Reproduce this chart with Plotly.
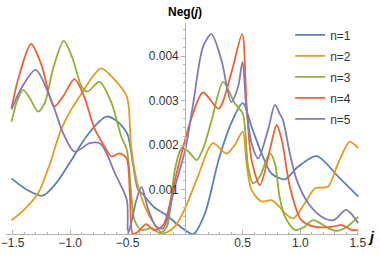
import plotly.graph_objects as go

# ---- data ----
j_n1 = [-1.51, -1.38, -1.24, -1.12, -0.99, -0.87, -0.75, -0.686, -0.6, -0.505, -0.455, -0.41, -0.37, -0.27,
        -0.16, -0.06, 0.07, 0.17, 0.29, 0.40, 0.5, 0.577, 0.664, 0.75, 0.867, 0.98, 1.143, 1.33, 1.505]
neg_n1 = [1.25e-3, 1.0e-3, 0.86e-3, 1.15e-3, 1.66e-3, 2.15e-3, 2.52e-3, 2.64e-3, 2.55e-3, 2.26e-3, 1.59e-3, 1.0e-3,
          0.9e-3, 0.6e-3, 0.42e-3, 0.2e-3, 0.0, 0.45e-3, 1.66e-3, 2.49e-3, 2.94e-3, 2.41e-3, 1.81e-3, 1.36e-3,
          1.23e-3, 1.51e-3, 1.75e-3, 1.29e-3, 0.84e-3]

j_n2 = [-1.51, -1.4, -1.28, -1.18, -1.08, -0.99, -0.90, -0.8, -0.73, -0.61, -0.507, -0.47, -0.41, -0.35, -0.29,
        -0.2, -0.15, -0.08, 0.0, 0.11, 0.24, 0.36, 0.43, 0.5, 0.533, 0.577, 0.664, 0.75, 0.82, 0.867, 0.94, 1.04,
        1.13, 1.24, 1.33, 1.43, 1.505]
neg_n2 = [0.31e-3, 0.55e-3, 0.91e-3, 1.55e-3, 2.34e-3, 2.8e-3, 3.16e-3, 3.55e-3, 3.72e-3, 3.46e-3, 3.09e-3, 1.96e-3,
          1.06e-3, 0.61e-3, 0.31e-3, 0.02e-3, 0.05e-3, 0.2e-3, 0.58e-3, 1.29e-3, 2.04e-3, 1.81e-3, 2.0e-3, 2.30e-3,
          1.59e-3, 0.99e-3, 0.73e-3, 0.76e-3, 0.61e-3, 0.47e-3, 0.35e-3, 0.69e-3, 1.03e-3, 1.06e-3, 1.59e-3,
          2.07e-3, 1.93e-3]

j_n3 = [-1.51, -1.46, -1.41, -1.35, -1.28, -1.22, -1.15, -1.056, -0.98, -0.90, -0.85, -0.745, -0.64, -0.556,
        -0.507, -0.47, -0.44, -0.38, -0.29, -0.22, -0.16, -0.09, -0.03, 0.03, 0.10, 0.16, 0.23, 0.33, 0.43, 0.50,
        0.547, 0.59, 0.65, 0.736, 0.78, 0.82, 0.867, 0.954, 1.03, 1.113, 1.244, 1.317, 1.4, 1.505]
neg_n3 = [2.52e-3, 3.0e-3, 3.24e-3, 3.05e-3, 2.75e-3, 2.95e-3, 3.7e-3, 4.34e-3, 3.95e-3, 3.31e-3, 3.2e-3, 3.42e-3,
          2.94e-3, 2.19e-3, 1.89e-3, 0.91e-3, 0.31e-3, 0.09e-3, 0.13e-3, 0.02e-3, 0.16e-3, 1.44e-3, 1.93e-3,
          1.85e-3, 1.66e-3, 1.95e-3, 2.56e-3, 3.42e-3, 2.94e-3, 2.71e-3, 1.51e-3, 1.14e-3, 1.3e-3, 1.81e-3,
          1.59e-3, 0.84e-3, 0.39e-3, 0.09e-3, 0.15e-3, 0.31e-3, 0.13e-3, 0.07e-3, 0.15e-3, 0.39e-3]

j_n4 = [-1.51, -1.45, -1.34, -1.25, -1.14, -1.06, -0.963, -0.88, -0.79, -0.70, -0.64, -0.57, -0.51, -0.48,
        -0.455, -0.41, -0.34, -0.27, -0.19, -0.09, 0.04, 0.155, 0.29, 0.40, 0.495, 0.533, 0.577, 0.65, 0.736,
        0.795, 0.84, 0.91, 1.01, 1.13, 1.27, 1.36, 1.45, 1.505]
neg_n4 = [2.82e-3, 3.5e-3, 4.27e-3, 3.8e-3, 2.86e-3, 3.1e-3, 3.48e-3, 3.1e-3, 2.38e-3, 1.96e-3, 1.74e-3, 1.81e-3,
          1.70e-3, 0.84e-3, 0.0, 0.05e-3, 0.22e-3, 0.09e-3, 0.2e-3, 1.21e-3, 2.49e-3, 3.18e-3, 2.82e-3, 3.61e-3,
          4.49e-3, 2.94e-3, 1.66e-3, 1.10e-3, 1.89e-3, 2.45e-3, 2.11e-3, 1.06e-3, 0.31e-3, 0.16e-3, 0.16e-3,
          0.2e-3, 0.09e-3, 0.09e-3]

j_n5 = [-1.51, -1.42, -1.30, -1.165, -1.06, -0.963, -0.83, -0.745, -0.70, -0.61, -0.507, -0.498, -0.47, -0.425,
        -0.38, -0.32, -0.25, -0.19, -0.09, 0.0, 0.07, 0.155, 0.228, 0.315, 0.40, 0.46, 0.498, 0.533, 0.577,
        0.634, 0.72, 0.78, 0.82, 0.85, 0.91, 0.97, 1.07, 1.186, 1.29, 1.40, 1.505]
neg_n5 = [2.80e-3, 3.3e-3, 3.69e-3, 3.01e-3, 2.26e-3, 1.85e-3, 2.04e-3, 2.04e-3, 1.9e-3, 1.36e-3, 0.76e-3, 0.0,
          0.24e-3, 0.76e-3, 1.06e-3, 0.54e-3, 0.16e-3, 0.13e-3, 1.06e-3, 1.89e-3, 2.94e-3, 4.21e-3, 4.49e-3,
          3.91e-3, 2.97e-3, 3.31e-3, 3.87e-3, 2.79e-3, 2.04e-3, 1.70e-3, 2.34e-3, 2.90e-3, 2.71e-3, 2.56e-3,
          1.81e-3, 1.21e-3, 0.69e-3, 0.39e-3, 0.31e-3, 0.54e-3, 0.24e-3]

series_names = ["n=1", "n=2", "n=3", "n=4", "n=5"]
series_j = [j_n1, j_n2, j_n3, j_n4, j_n5]
series_neg = [neg_n1, neg_n2, neg_n3, neg_n4, neg_n5]
colors = ["#5E81B5", "#E19C24", "#8FB032", "#EB6235", "#8778B3"]

x_tickvals = [-1.5, -1.0, -0.5, 0.5, 1.0, 1.5]
x_ticktext = ["\u22121.5", "\u22121.0", "\u22120.5", "0.5", "1.0", "1.5"]
y_tickvals = [0.001, 0.002, 0.003, 0.004]
y_ticktext = ["0.001", "0.002", "0.003", "0.004"]

FONT = "Liberation Sans, Arial, sans-serif"
AXIS_GREY = "#b3b3b3"
TEXT = "#333333"

fig = go.Figure()
for name, xs, ys, c in zip(series_names, series_j, series_neg, colors):
    fig.add_trace(go.Scatter(x=xs, y=ys, mode="lines", name=name, legendgroup=name,
                             line=dict(color=c, width=1.8, shape="spline", smoothing=0.8)))

fig.update_layout(
    width=380, height=255,
    margin=dict(l=6, r=21, t=23, b=21, autoexpand=False),
    paper_bgcolor="white", plot_bgcolor="white",
    font=dict(family=FONT, size=12, color=TEXT),
    showlegend=True,
    legend=dict(x=0.805, y=1.012, xanchor="left", yanchor="top", bgcolor="rgba(0,0,0,0)",
                font=dict(size=12, color=TEXT), tracegroupgap=2, itemwidth=30),
    xaxis=dict(range=[-1.558, 1.511], showgrid=False, zeroline=False, showline=True, automargin=False,
               linecolor=AXIS_GREY, linewidth=1, ticks="inside", ticklen=4, tickcolor=AXIS_GREY,
               tickvals=x_tickvals, ticktext=x_ticktext, tickfont=dict(size=12, color=TEXT),
               ticklabelstandoff=-2,
               minor=dict(ticks="inside", ticklen=2, tickcolor=AXIS_GREY, dtick=0.1, tick0=0,
                          showgrid=False)),
    yaxis=dict(range=[0, 0.004742], showgrid=False, zeroline=False, showline=True, automargin=False,
               linecolor=AXIS_GREY, linewidth=1, anchor="free", position=0.5076, side="left",
               ticks="outside", ticklen=4, tickcolor=AXIS_GREY,
               tickvals=y_tickvals, ticktext=y_ticktext, tickfont=dict(size=12, color=TEXT),
               minor=dict(ticks="outside", ticklen=2, tickcolor=AXIS_GREY, dtick=0.0002, tick0=0,
                          showgrid=False)),
    annotations=[
        dict(text="<b>Neg(<i>j</i>)</b>", x=0, xref="x", y=1.0536, yref="paper",
             xanchor="center", yanchor="middle", showarrow=False, font=dict(size=12, color="#000")),
        dict(text="<b><i>j</i></b>", x=1.0368, xref="paper", y=-0.014, yref="paper",
             xanchor="center", yanchor="middle", showarrow=False, font=dict(size=14, color="#000")),
    ],
)

fig.write_html("out.html", config={"displayModeBar": False},
               post_script="document.body.style.margin='0';")
